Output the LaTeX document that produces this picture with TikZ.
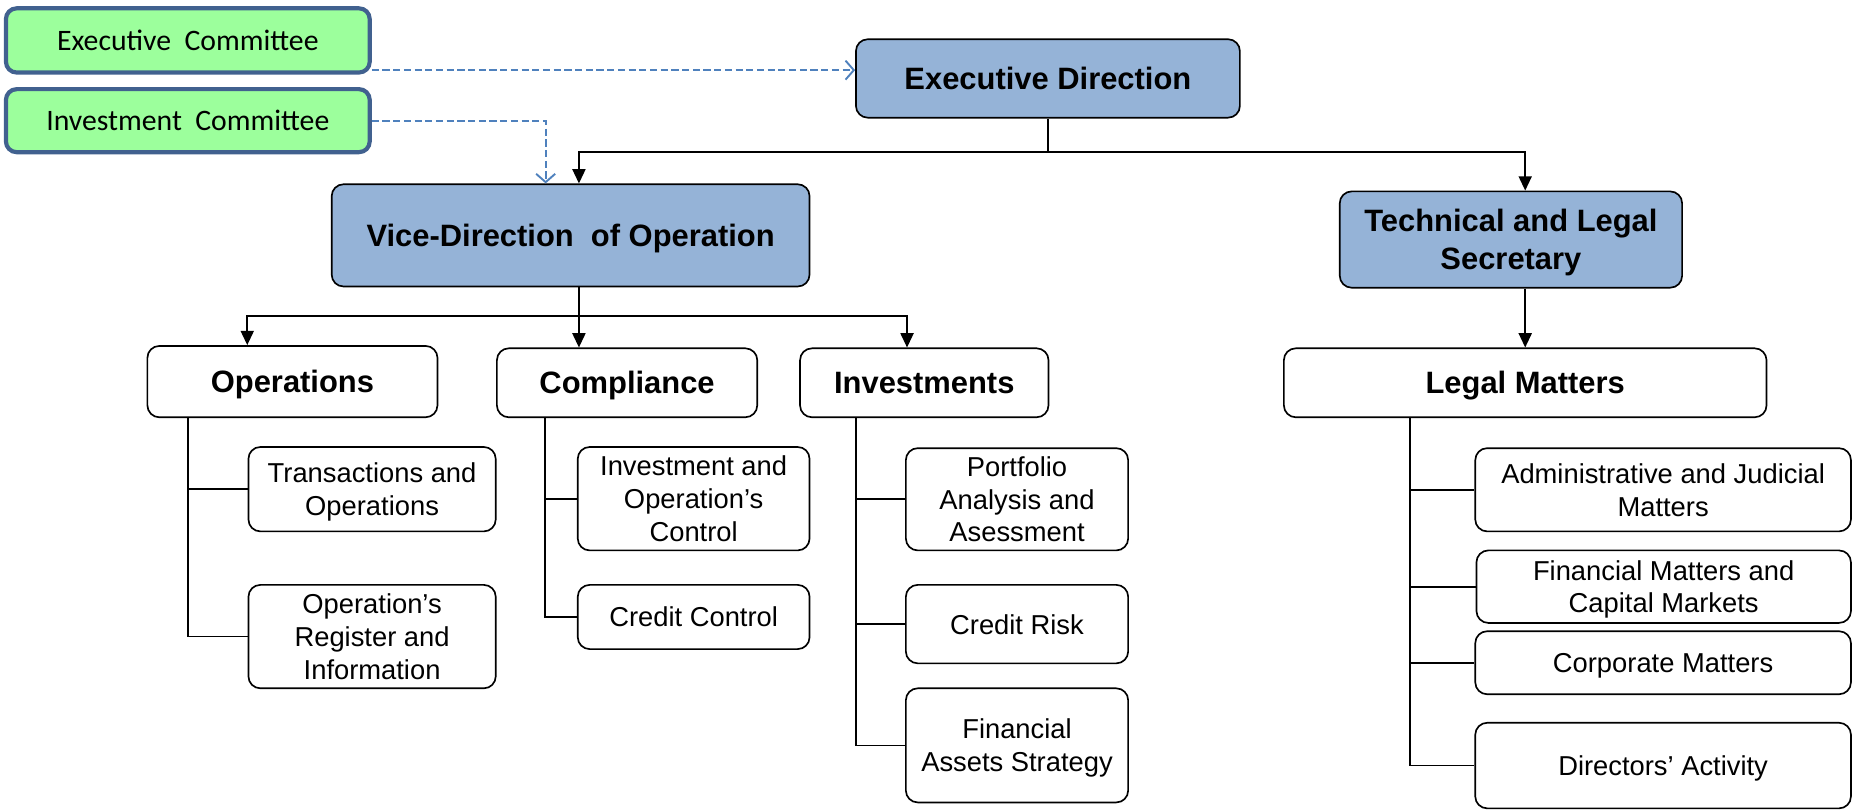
\documentclass[tikz,border=0pt]{standalone}
\usepackage{fontspec}
\setmainfont{Liberation Sans}
\newfontfamily\calfont{Carlito}
\usepackage{tikz}
\usetikzlibrary{arrows.meta}

\definecolor{commfill}{HTML}{9CFF9C}
\definecolor{commline}{HTML}{41618F}
\definecolor{headfill}{HTML}{95B3D7}
\definecolor{dashblue}{HTML}{4F81BD}

\tikzset{
  box/.style={draw=black, line width=1.4pt, rounded corners=10pt, fill=white, align=center, inner sep=2pt, text depth=0pt},
  headbox/.style={box, fill=headfill, font=\fontsize{26}{32}\selectfont\bfseries},
  unitbox/.style={box, font=\fontsize{26}{32}\selectfont\bfseries},
  subbox/.style={box, font=\fontsize{23}{27.5}\selectfont},
  commbox/.style={draw=commline, line width=3.5pt, rounded corners=9pt, fill=commfill, text depth=0pt, font=\calfont\fontsize{25}{28}\selectfont},
  link/.style={line width=1.4pt},
  arr/.style={link, -{Triangle[length=12pt,width=11pt]}},
  dasharr/.style={draw=dashblue, line width=1.6pt, dash pattern=on 6pt off 3pt, -{Straight Barb[length=7pt,width=16pt]}},
}

\begin{document}
\begin{tikzpicture}[x=1pt,y=-1pt]
  \useasboundingbox (0,0) rectangle (1568,681);

  % committees
  \node[commbox, minimum width=306pt, minimum height=54pt] (ec) at (158,34) {Executive\ \ Committee};
  \node[commbox, minimum width=306pt, minimum height=53pt] (ic) at (158,101.5) {Investment\ \ Committee};

  % direction
  \node[headbox, minimum width=323pt, minimum height=66pt] (exdir) at (881.5,66) {Executive Direction};
  \node[headbox, minimum width=402pt, minimum height=86pt] (vice) at (480,198) {Vice-Direction\ \ of Operation};
  \node[headbox, minimum width=288pt, minimum height=81pt] (tech) at (1271,201.5) {Technical and Legal\\Secretary};

  % units
  \foreach \nm/\xc/\yc/\bw/\bh/\txt in {ops/246/321/244/60/Operations, comp/527.5/322/219/58/Compliance,
      inv/777.5/322/209/58/Investments, legal/1283/322/406/58/Legal Matters} {
    \node[unitbox, minimum width=\bw pt, minimum height=\bh pt] (\nm) at (\xc,\yc) {\txt};
  }

  % sub units
  \foreach \nm/\xc/\yc/\bw/\bh/\txt in {
      trans/313/411.5/208/71/{Transactions and\\Operations},
      opreg/313/535.5/208/87/{Operation’s\\Register and\\Information},
      ioc/583.5/419.5/195/87/{Investment and\\Operation’s\\Control},
      credctl/583.5/519/195/54/{Credit Control},
      portf/855.5/420/187/86/{Portfolio\\Analysis and\\Asessment},
      credrisk/855.5/525/187/66/{Credit Risk},
      finassets/855.5/627/187/96/{Financial\\Assets Strategy},
      admin/1399/412/316/70/{Administrative and Judicial\\Matters},
      finmat/1399.5/493.5/315/61/{Financial Matters and\\Capital Markets},
      corp/1399/557.5/316/53/{Corporate Matters},
      directors/1399/644/316/72/{Directors’ Activity}} {
    \node[subbox, minimum width=\bw pt, minimum height=\bh pt] (\nm) at (\xc,\yc) {\txt};
  }

  % top level links
  \draw[link] (exdir.south) -- ++(0,28) coordinate (hub);
  \draw[arr] (hub) -| ([xshift=7pt]vice.north);
  \draw[arr] (hub) -| (legal.north |- tech.north);
  \draw[arr] (legal.north |- tech.south) -- (legal.north);

  \draw[link] ([xshift=7pt]vice.south) -- ++(0,24) coordinate (vhub);
  \draw[arr] (vhub) -| ([xshift=-38pt]ops.north);
  \draw[arr] (vhub) -- ([xshift=-40.5pt]comp.north);
  \draw[arr] (vhub) -| ([xshift=-14.5pt]inv.north);

  \foreach \up/\off/\kid in {ops/35/trans, ops/35/opreg, comp/41/ioc, comp/41/credctl,
      inv/48/portf, inv/48/credrisk, inv/48/finassets,
      legal/107/admin, legal/107/finmat, legal/107/corp, legal/107/directors} {
    \draw[link] ([xshift=\off pt]\up.south west) |- (\kid.west);
  }

  % committee links
  \coordinate (edin) at ([yshift=7pt]exdir.west);
  \draw[dasharr] (ec.east |- edin) -- (edin);
  \draw[dasharr] (ic.east) -| ([xshift=-21pt]vice.north);
\end{tikzpicture}
\end{document}
